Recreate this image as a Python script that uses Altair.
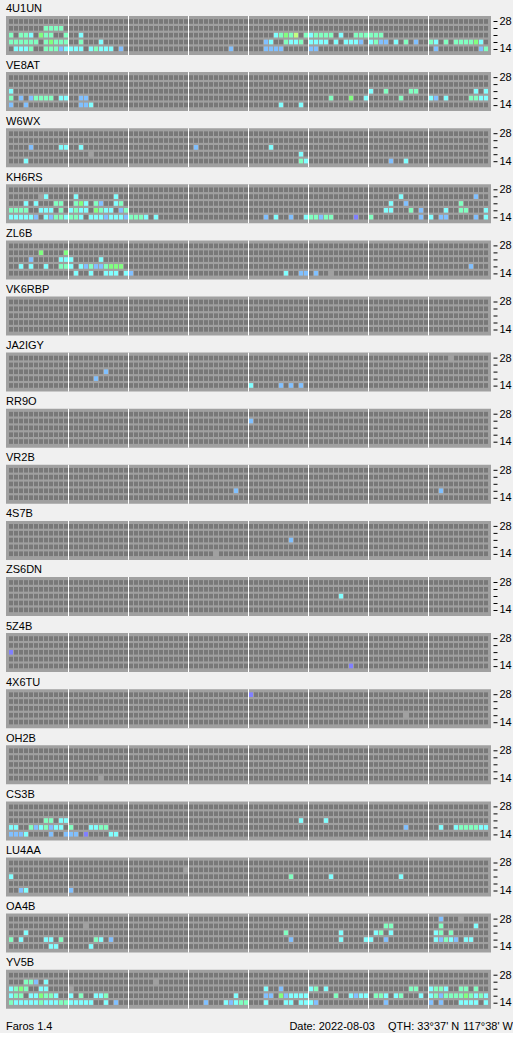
import altair as alt
import pandas as pd

FONT = "Liberation Sans"

STATIONS = ["4U1UN", "VE8AT", "W6WX", "KH6RS", "ZL6B", "VK6RBP", "JA2IGY", "RR9O", "VR2B",
            "4S7B", "ZS6DN", "5Z4B", "4X6TU", "OH2B", "CS3B", "LU4AA", "OA4B", "YV5B"]
BANDS = ["28", "24", "21", "18", "14"]          # top row to bottom row
SLOTS = 96                                      # 15-minute slots over the day
SLOTS_PER_BLOCK = 12                            # white divider every 3 hours

# signal level codes -> cell colours ("." = not heard)
LEVEL_CODES = [".", "c", "a", "g", "y", "b", "p", "x"]
LEVEL_COLORS = ["#787878", "#80ffff", "#80ffc0", "#80ff80", "#c0ff80", "#80c0ff", "#8080ff", "#a0a0a0"]

# heard slots per band: "<slot><level>"
HEARD = {
    "4U1UN": {
        "24": "7a 8a 9a 10a",
        "21": "0a 2a 3a 4c 6g 7a 8a 11a 14c 53c 54a 55g 56a 57y 59a 60c 61a 62a 63a 64a 66c "
              "69a 70a 71a 72a 73a 74a",
        "18": "0a 1a 2a 3a 4a 5a 7a 8g 9a 10a 11a 14a 18c 51b 52c 55a 56c 57c 58a 60c 61c 62c 63c "
              "65c 67c 68c 69c 70b 72c 73a 74b 75b 77c 79a 81b 84a 85c 87a 89a 90a 91a 92a 93g 94c",
        "14": "1c 2c 3c 4a 7a 8a 9a 10b 11c 12c 13c 14c 16c 17a 18c 19c 20c 22b 44b 51b 52b 53b 54b "
              "60b 61b 85b 94b 95a",
    },
    "VE8AT": {
        "21": "0c 72c 75a 80a 81a 93c 95c",
        "18": "0a 2b 4b 5a 6a 7a 8a 10c 11c 14b 15b 64a 68g 71c 78a 84c 85b 87c 92a 93a 94c 95c",
        "14": "0b 3b 14b 15b 16c 54c 58c",
    },
    "W6WX": {
        "21": "4b 10c 11c 14c 37b 52c",
        "18": "16x 58c",
        "14": "3c 58a 59c 76b 79c",
    },
    "KH6RS": {
        "24": "6x 7c 13c 21c 78c 93b",
        "21": "3c 5c 9a 10a 13a 14g 15c 17a 18b 21c 22a 76c 79b 90a",
        "18": "0a 1a 2a 3a 6c 7c 8c 10a 12c 13a 14c 15c 17g 18a 19c 20c 22b 23a 75c 76c 80a 82b "
              "87c 90a 91a 95c",
        "14": "0c 1c 2c 3c 4c 5b 7c 8b 9a 10a 11c 12a 13a 14c 16c 17c 18c 19b 20c 21c 22c 23b 24a "
              "25a 26a 27c 29c 51b 53c 56b 59c 60a 61a 62b 63a 64a 69p 72a 82b 84c 86b 87b 93b 95c",
    },
    "ZL6B": {
        "24": "6g 11g",
        "21": "4b 10c 11c 12c 18c",
        "18": "2c 4c 7c 10a 11a 12c 14c 15b 16a 17b 18b 19a 20g 21g 22g 92b",
        "14": "13c 16c 19c 20c 21c 23c 24b 55c 58b 59b 61b 64x",
    },
    "JA2IGY": {
        "28": "88x",
        "21": "19b",
        "18": "17b",
        "14": "48c 54b 56b 58b",
    },
    "RR9O": {"24": "48b"},
    "VR2B": {"18": "45b 86b"},
    "4S7B": {"21": "56b", "14": "41x"},
    "ZS6DN": {"21": "66c"},
    "5Z4B": {"21": "0p", "14": "68p"},
    "4X6TU": {"28": "48p", "18": "79x"},
    "OH2B": {"14": "18x"},
    "CS3B": {
        "21": "7a 8a 10c 11c 58c 63c",
        "18": "0c 1c 4a 5b 6c 7a 8b 9c 10c 12a 16c 17c 18a 19a 79b 86c 89c 90a 91a 92a 93a 94c 95c",
        "14": "0b 1b 2b 3c 8b 11b 12b 13b 15p 20c 21c",
    },
    "LU4AA": {
        "24": "35x",
        "21": "0c 56a 64c 78c",
        "14": "2b 3c 12b",
    },
    "OA4B": {
        "28": "86b 90x",
        "24": "15x 75a 76a 86a 93c",
        "21": "3c 55a 66c 73c 74a 76c 85c 86a 88a",
        "18": "0a 2c 7c 8c 10a 17a 18c 20b 56b 66c 71c 72c 75b 85c 86b 87a 88c 89b 91c 92c",
        "14": "8c 9c 16c",
    },
    "YV5B": {
        "24": "3a 4a 5b 7c 29x",
        "21": "0c 1a 2g 3a 6c 7c 12x 51c 54b 60c 61a 63c 80a 81a 84c 85a 86a 87c 90a 91a 93a",
        "18": "0c 1a 2a 4c 5c 6g 7a 8a 9c 12c 14a 17c 18c 19a 45c 51b 52b 54g 55b 56c 57c 58c 59c "
              "65a 68c 69b 70c 71c 73a 74a 75c 77c 78a 82c 84c 85a 86b 87a 88a 89a 90a 91g 92a 93c "
              "94a 95c",
        "14": "0a 1c 2c 3c 4c 5c 6a 7c 8c 9c 10a 11a 12c 13c 14c 15c 16c 19c 21b 39b 43c 44b 45c "
              "46a 47a 51c 55c 56c 58c 59c 60c 61b 75b 84b 86b 90c 91c 92c 93c 95c",
    },
}

FOOTER_LEFT = "Faros 1.4"
FOOTER_DATE = "Date: 2022-08-03"
FOOTER_LAT = "QTH: 33°37' N"
FOOTER_LON = "117°38' W"

# one record per grid cell
records = []
for st in STATIONS:
    spec = HEARD.get(st, {})
    for r, band in enumerate(BANDS):
        levels = ["."] * SLOTS
        for tok in spec.get(band, "").split():
            levels[int(tok[:-1])] = tok[-1]
        for j, lv in enumerate(levels):
            records.append({"station": st, "band": band, "row": r, "slot": j, "level": lv})
cells = pd.DataFrame(records)
cells["x0"] = cells["slot"] + 0.1
cells["x1"] = cells["slot"] + 0.9
cells["y0"] = cells["row"] - 0.34
cells["y1"] = cells["row"] + 0.34

dividers = pd.DataFrame({"pos": list(range(SLOTS_PER_BLOCK, SLOTS, SLOTS_PER_BLOCK))})

W, H = 485, 39
xs = alt.Scale(domain=[-0.5, SLOTS + 0.5], nice=False, zero=False)
ys = alt.Scale(domain=[-0.8, 4.9], nice=False, zero=False, reverse=True)
colors = alt.Scale(domain=LEVEL_CODES, range=LEVEL_COLORS)

band_axis = alt.Axis(
    orient="right", values=[0, 1, 2, 3, 4],
    labelExpr="datum.value == 0 ? '28' : (datum.value == 4 ? '14' : '')",
    tickSize=4, tickColor="black", tickWidth=1, offset=2, domain=False, grid=False,
    labelPadding=2, labelFontSize=11, labelFont=FONT, labelColor="black", title="",
)


def panel(name):
    d = cells[cells["station"] == name]
    grid = alt.Chart(d).mark_rect().encode(
        x=alt.X("x0:Q", scale=xs, axis=None),
        x2="x1:Q",
        y=alt.Y("y0:Q", scale=ys, axis=band_axis),
        y2="y1:Q",
        color=alt.Color("level:N", scale=colors, legend=None),
    )
    divs = alt.Chart(dividers).mark_rule(color="white", strokeWidth=1).encode(
        x=alt.X("pos:Q", scale=xs, axis=None),
        y=alt.value(0),
        y2=alt.value(H),
    )
    return alt.layer(grid, divs).properties(
        width=W, height=H,
        title=alt.TitleParams(text=name, anchor="start", fontSize=11, font=FONT,
                              fontWeight="normal", color="black", offset=1),
        view=alt.ViewBackground(fill="#a0a0a0", strokeWidth=0),
    )


def footer():
    style = dict(font=FONT, fontSize=11, color="black", baseline="middle")
    left = alt.Chart(pd.DataFrame({"t": [FOOTER_LEFT]})).mark_text(align="left", **style).encode(
        text="t:N", x=alt.value(0), y=alt.value(14))
    date = alt.Chart(pd.DataFrame({"t": [FOOTER_DATE]})).mark_text(align="right", **style).encode(
        text="t:N", x=alt.value(369), y=alt.value(14))
    lat = alt.Chart(pd.DataFrame({"t": [FOOTER_LAT]})).mark_text(align="left", **style).encode(
        text="t:N", x=alt.value(382), y=alt.value(14))
    lon = alt.Chart(pd.DataFrame({"t": [FOOTER_LON]})).mark_text(align="right", **style).encode(
        text="t:N", x=alt.value(507), y=alt.value(14))
    return alt.layer(left, date, lat, lon).properties(width=W, height=20)


chart = alt.vconcat(*[panel(s) for s in STATIONS], footer(), spacing=3.1).properties(
    padding={"left": 6, "top": 3, "right": 0, "bottom": 0},
    background="#f0f0f0",
).configure_view(strokeWidth=0)

chart.save("out.html", embed_options={"renderer": "svg", "actions": False})
